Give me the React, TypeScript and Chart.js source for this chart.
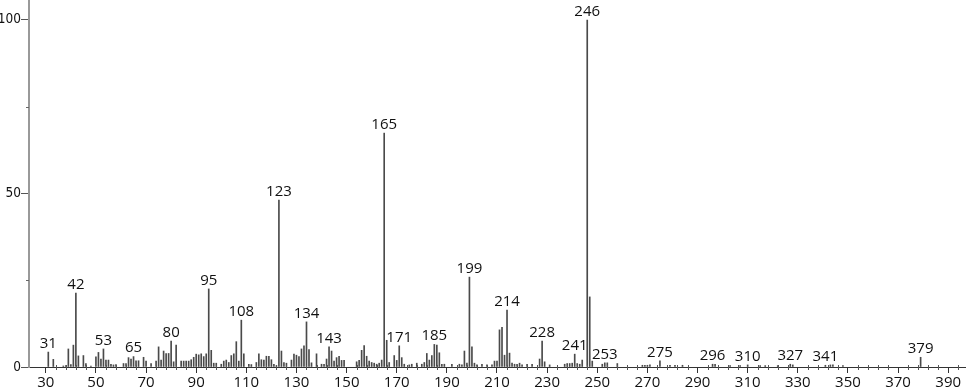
import React, { useEffect, useRef } from 'react';
import { Chart, registerables } from 'chart.js';

Chart.register(...registerables);

const mzValues = [
  31, 33, 37, 38, 39, 40, 41, 42, 43, 45, 46, 48, 50, 51, 52, 53, 54, 55, 56, 57, 58,
  61, 62, 63, 64, 65, 66, 67, 69, 70, 72, 74, 75, 76, 77, 78, 79, 80, 81, 82, 84, 85,
  86, 87, 88, 89, 90, 91, 92, 93, 94, 95, 96, 97, 98, 100, 101, 102, 103, 104, 105,
  106, 107, 108, 109, 111, 112, 114, 115, 116, 117, 118, 119, 120, 121, 122, 123, 124,
  125, 126, 128, 129, 130, 131, 132, 133, 134, 135, 136, 138, 140, 141, 142, 143, 144,
  145, 146, 147, 148, 149, 154, 155, 156, 157, 158, 159, 160, 161, 162, 163, 164, 165,
  166, 167, 169, 170, 171, 172, 173, 175, 176, 178, 180, 181, 182, 183, 184, 185, 186,
  187, 188, 189, 192, 195, 196, 197, 198, 199, 200, 201, 202, 204, 206, 208, 209, 210,
  211, 212, 213, 214, 215, 216, 217, 218, 219, 220, 222, 224, 227, 228, 229, 231, 237,
  238, 239, 240, 241, 242, 243, 244, 246, 247, 248, 252, 253, 254, 258, 268, 269, 270,
  271, 275, 279, 281, 284, 296, 297, 303, 307, 310, 315, 317, 322, 327, 328, 341, 343,
  344, 348, 379,
];

const intensities = [
  4.3, 2.2, 0.3, 0.4, 5.2, 0.7, 6.3, 21.3, 3.2, 3.3, 1.0, 0.3, 2.9, 4.2, 2.3, 5.2, 2.0, 2.0, 0.8, 0.6, 0.7,
  1.0, 1.0, 2.7, 2.3, 3.0, 1.8, 1.8, 2.8, 1.7, 1.0, 1.7, 5.8, 2.0, 4.6, 3.9, 3.9, 7.5, 1.5, 6.3, 1.7, 1.7,
  1.7, 1.7, 2.1, 2.8, 3.7, 3.5, 3.8, 3.0, 3.8, 22.5, 4.8, 1.1, 1.1, 0.8, 1.7, 2.0, 1.3, 3.3, 3.8,
  7.3, 1.7, 13.5, 3.8, 0.8, 0.7, 1.3, 3.8, 2.1, 2.0, 3.1, 3.1, 2.1, 0.8, 0.4, 48.1, 4.6,
  1.3, 1.1, 2.0, 3.7, 3.4, 3.0, 5.2, 6.1, 13.0, 5.0, 1.2, 3.8, 0.8, 0.8, 2.3, 5.8, 4.6,
  1.7, 2.7, 3.1, 1.9, 1.9, 1.5, 1.9, 4.8, 6.2, 3.1, 1.7, 1.3, 1.1, 0.8, 1.1, 2.0, 67.4,
  7.7, 1.3, 3.3, 1.9, 6.1, 2.7, 0.8, 0.6, 0.8, 1.1, 0.8, 1.3, 3.9, 2.0, 3.3, 6.5, 6.3,
  4.1, 0.8, 0.8, 0.8, 0.8, 0.6, 4.6, 1.1, 25.9, 5.8, 1.1, 0.6, 0.8, 0.6, 0.6, 1.7, 1.7,
  10.7, 11.4, 3.4, 16.4, 4.0, 1.1, 0.8, 0.8, 1.1, 0.6, 0.8, 0.8, 2.3, 7.5, 1.5, 0.6, 0.8,
  1.0, 1.0, 1.1, 3.7, 1.0, 0.8, 2.0, 100, 20.2, 1.7, 0.8, 1.2, 1.2, 1.0, 0.5, 0.5, 0.5,
  0.6, 1.8, 0.5, 0.5, 0.5, 0.8, 0.8, 0.4, 0.4, 0.6, 0.4, 0.4, 0.4, 0.8, 0.6, 0.5, 0.6,
  0.6, 0.4, 2.8,
];

const labeledPeaks = [
  31, 42, 53, 65, 80, 95, 108, 123, 134, 143, 165, 171, 185, 199, 214, 228, 241, 246,
  253, 275, 296, 310, 327, 341, 379,
];

const xLabelTicks = [30, 50, 70, 90, 110, 130, 150, 170, 190, 210, 230, 250, 270, 290, 310, 330, 350, 370, 390];
const yLabelTicks = [0, 50, 100];
const yMinorTicks = [25, 75];

const FONT = '"Open Sans", "DejaVu Sans", sans-serif';
const Y_FONT = '"DejaVu Sans Condensed", "Open Sans", sans-serif';

const peakLabelPlugin = {
  id: 'peakLabels',
  afterDatasetsDraw(chart: any) {
    const ctx = chart.ctx;
    const meta = chart.getDatasetMeta(0);
    ctx.save();
    ctx.font = `15px ${FONT}`;
    ctx.fillStyle = '#111';
    ctx.textAlign = 'center';
    ctx.textBaseline = 'bottom';
    meta.data.forEach((el: any, i: number) => {
      const mz = mzValues[i];
      if (labeledPeaks.includes(mz)) {
        ctx.fillText(String(mz), el.x, el.y - 1);
      }
    });
    ctx.restore();
  },
};

const minorTicksPlugin = {
  id: 'minorTicks',
  afterDraw(chart: any) {
    const ctx = chart.ctx;
    const xs = chart.scales.x;
    const ys = chart.scales.y;
    ctx.save();
    ctx.strokeStyle = '#555';
    ctx.lineWidth = 1;
    const base = Math.round(ys.getPixelForValue(0));
    for (let v = 34; v < 397; v += 4) {
      if ((v - 30) % 20 === 0) continue;
      const px = Math.round(xs.getPixelForValue(v)) + 0.5;
      ctx.beginPath();
      ctx.moveTo(px, base - 2);
      ctx.lineTo(px, base + 3);
      ctx.stroke();
    }
    ctx.strokeStyle = '#666';
    yMinorTicks.forEach((v) => {
      const py = Math.round(ys.getPixelForValue(v)) + 0.5;
      ctx.beginPath();
      ctx.moveTo(xs.left - 3, py);
      ctx.lineTo(xs.left, py);
      ctx.stroke();
    });
    ctx.restore();
  },
};

export default function App() {
  const canvasRef = useRef<HTMLCanvasElement | null>(null);

  useEffect(() => {
    if (!canvasRef.current) return;
    const chart = new Chart(canvasRef.current, {
      type: 'bar',
      data: {
        datasets: [
          {
            data: mzValues.map((m, i) => ({ x: m, y: intensities[i] })),
            backgroundColor: '#4a4a4a',
            borderWidth: 0,
            barThickness: 1,
            grouped: false,
          } as any,
        ],
      },
      options: {
        animation: false,
        responsive: true,
        maintainAspectRatio: false,
        devicePixelRatio: 1,
        layout: { padding: 0, autoPadding: false } as any,
        plugins: {
          legend: { display: false },
          tooltip: { enabled: false },
        },
        scales: {
          x: {
            type: 'linear',
            offset: false,
            min: 23.3,
            max: 397.1,
            afterBuildTicks: (scale: any) => {
              scale.ticks = xLabelTicks.map((v) => ({ value: v }));
            },
            afterFit: (scale: any) => {
              scale.height = 22;
              scale.paddingLeft = 0;
              scale.paddingRight = 0;
            },
            grid: {
              display: true,
              offset: false,
              drawOnChartArea: false,
              drawTicks: true,
              tickLength: 6,
              color: '#333',
            },
            border: { display: true, color: '#333', width: 1 },
            ticks: {
              autoSkip: false,
              maxRotation: 0,
              padding: 1,
              color: '#111',
              font: { family: FONT, size: 15 },
            },
          },
          y: {
            type: 'linear',
            min: 0,
            max: 105.76,
            afterBuildTicks: (scale: any) => {
              scale.ticks = yLabelTicks.map((v) => ({ value: v }));
            },
            afterFit: (scale: any) => {
              scale.width = 29;
              scale.paddingTop = 0;
              scale.paddingBottom = 0;
            },
            grid: {
              display: true,
              drawOnChartArea: false,
              drawTicks: true,
              tickLength: 8,
              color: '#555',
            },
            border: { display: true, color: '#999', width: 2 },
            ticks: {
              padding: 0,
              color: '#111',
              font: { family: Y_FONT, size: 13.5 },
            },
          },
        },
      },
      plugins: [peakLabelPlugin, minorTicksPlugin],
    } as any);
    return () => chart.destroy();
  }, []);

  return (
    <div
      style={{
        position: 'fixed',
        left: 0,
        top: 0,
        width: 966,
        height: 389,
        background: '#fff',
      }}
    >
      <canvas ref={canvasRef} />
    </div>
  );
}
